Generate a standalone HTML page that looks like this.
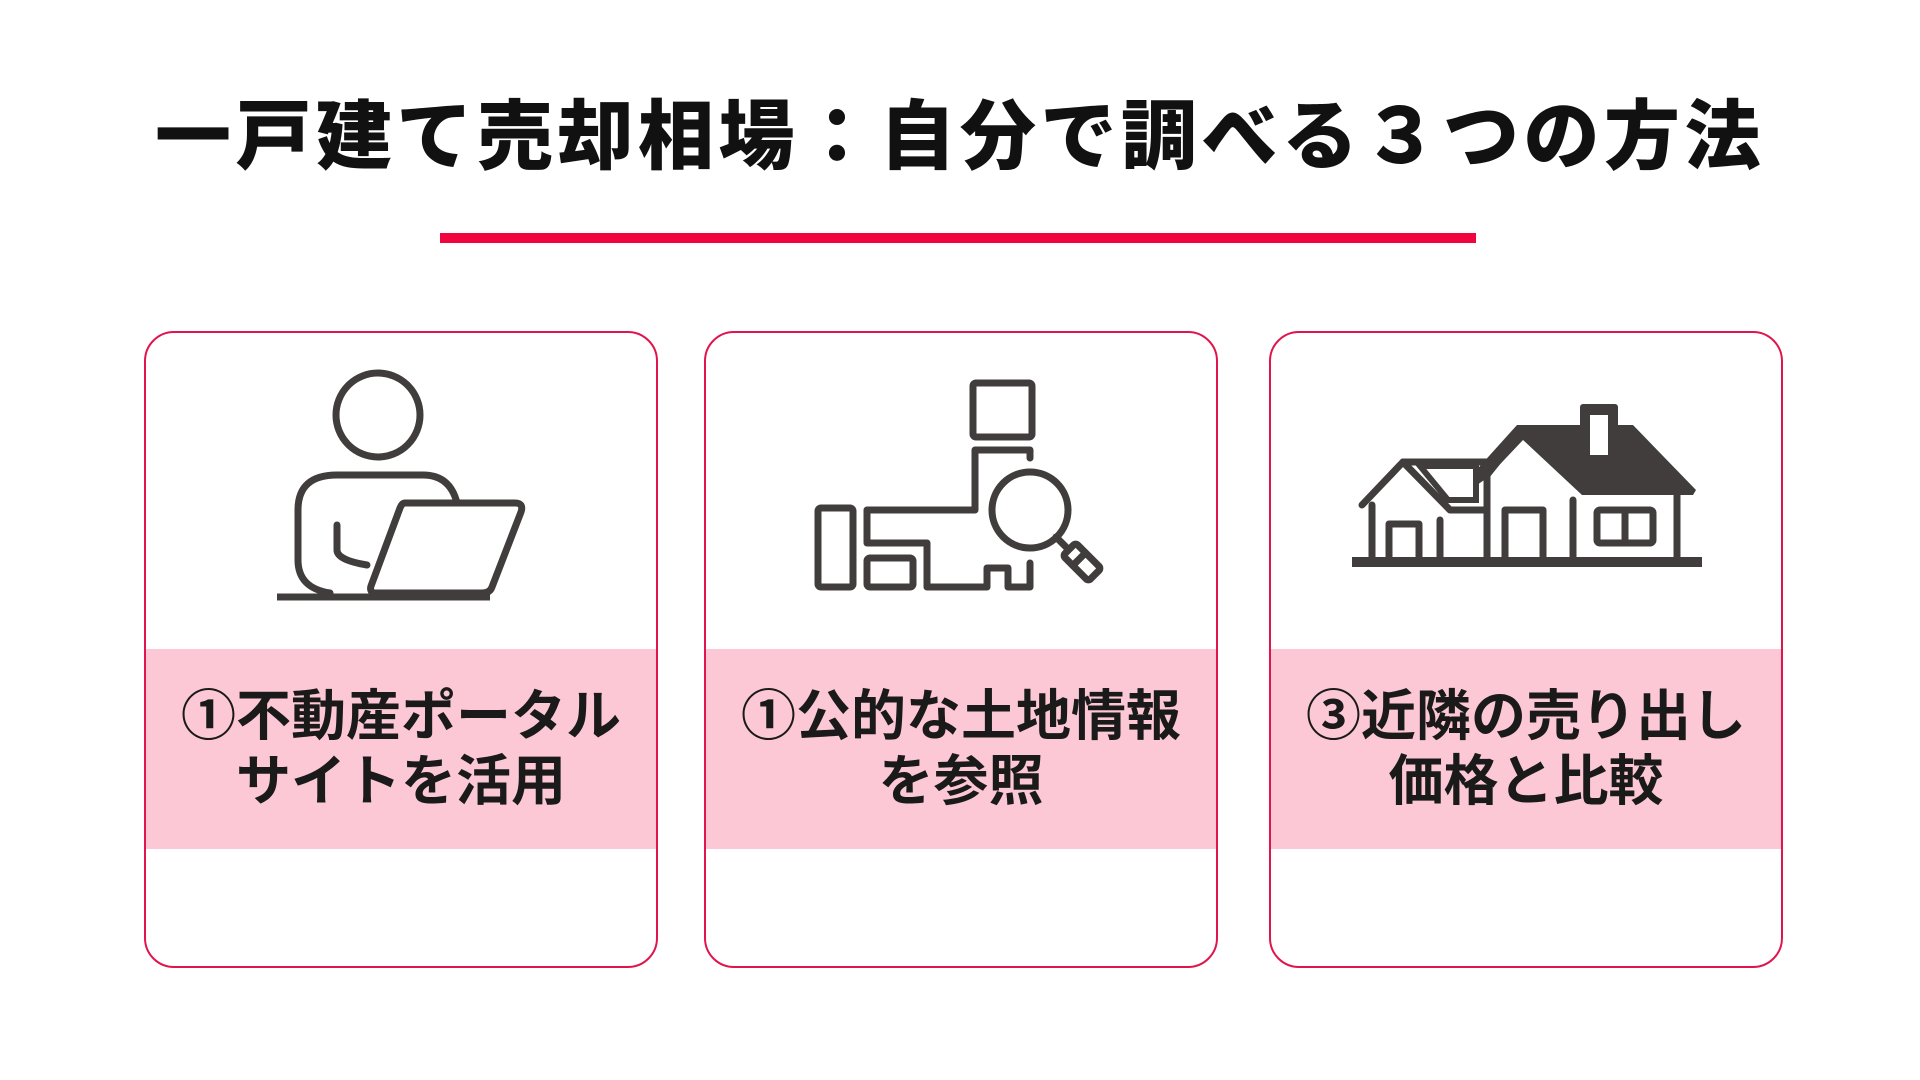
<!DOCTYPE html>
<html><head><meta charset="utf-8"><style>
html,body{margin:0;padding:0;background:#fff;width:1920px;height:1080px;overflow:hidden;position:relative;font-family:"Liberation Sans","Noto Sans CJK JP",sans-serif}
.title{position:absolute;left:0;width:1920px;top:88px;text-align:center;font-size:76px;font-weight:900;color:#111;letter-spacing:4.5px;line-height:100px;white-space:nowrap}
.bar{position:absolute;left:440px;top:233px;width:1036px;height:10px;background:#f0053e}
.card{position:absolute;top:331px;width:510px;height:633px;border:2.5px solid #e0154d;border-radius:30px;overflow:hidden;background:#fff}
.band{position:absolute;left:0;right:0;top:316px;height:200px;background:#fdc8d6;display:flex;flex-direction:column;justify-content:center;align-items:center;font-size:55px;font-weight:bold;color:#1a1a1a;line-height:65px;white-space:nowrap}
svg{position:absolute;left:0;top:0}
</style></head><body>
<div class="title">一戸建て売却相場：自分で調べる３つの方法</div>
<div class="bar"></div>
<div class="card" style="left:144px"><div class="band"><div>①不動産ポータル</div><div>サイトを活用</div></div></div>
<div class="card" style="left:704px"><div class="band"><div>①公的な土地情報</div><div>を参照</div></div></div>
<div class="card" style="left:1269px"><div class="band"><div>③近隣の売り出し</div><div>価格と比較</div></div></div>
<svg width="1920" height="1080" viewBox="0 0 1920 1080">
<g fill="none" stroke="#413d3d" stroke-width="7" stroke-linejoin="round" stroke-linecap="round">
<circle cx="378" cy="415" r="42"/>
<path d="M330 593 Q298 588 298 560 L298 510 Q298 475 337 475 L423 475 Q450 475 457 503"/>
<path d="M337 525 L337 550 Q337 560 367 565"/>
<path d="M405 503 L515 503 Q524 503 521 512 L492 587 Q490 593 482 593 L376 593 Q369 593 371 586 L400 508 Q402 503 405 503 Z"/>
<line x1="277" y1="597" x2="490" y2="597" stroke-linecap="butt"/>
<rect x="973" y="383" width="59" height="54" rx="3"/>
<rect x="818" y="508" width="35" height="79" rx="3"/>
<rect x="867" y="558" width="46" height="29" rx="3"/>
<path d="M1030 458 L1030 450 L975 450 L975 510 L867 510 L867 543 L927 543 L927 587 L987 587 L987 568 L1008 568 L1008 587 L1030 587 L1030 563"/>
<circle cx="1030" cy="510" r="38" fill="#fff"/>
<line x1="1056" y1="537" x2="1066" y2="547"/>
<g transform="translate(1082 562) rotate(45)"><rect x="-18" y="-9" width="36" height="18" rx="3"/><line x1="-4" y1="-9" x2="-4" y2="9"/></g>
<polyline points="1362,505 1403,462 1450,510 1484,510"/>
<line x1="1403" y1="462" x2="1487" y2="462"/>
<line x1="1372" y1="505" x2="1372" y2="560"/>
<path d="M1389 560 L1389 524 L1419 524 L1419 560"/>
<line x1="1440" y1="520" x2="1440" y2="560"/>
<polyline points="1467,488 1523,430 1487,475 1487,560" />
<line x1="1677" y1="493" x2="1677" y2="560"/>
<path d="M1505 560 L1505 510 L1543 510 L1543 560"/>
<line x1="1573" y1="500" x2="1573" y2="560"/>
<rect x="1597" y="510" width="56" height="33" rx="3"/>
<line x1="1625" y1="510" x2="1625" y2="543"/>
</g>
<g fill="#413d3d">
<polygon points="1517,425 1633,425 1696,490 1693,495 1582,495 1523,440 1487,478 1467,492 1462,486"/>
<rect x="1580" y="404" width="38" height="50" rx="3"/>
<rect x="1590" y="415" width="18" height="40" fill="#fff"/>
<polygon points="1476,466 1420,466 1448,500 1476,500" fill="#fff" stroke="#413d3d" stroke-width="6"/>
<rect x="1352" y="557" width="350" height="10"/>
</g>
</svg>
</body></html>
